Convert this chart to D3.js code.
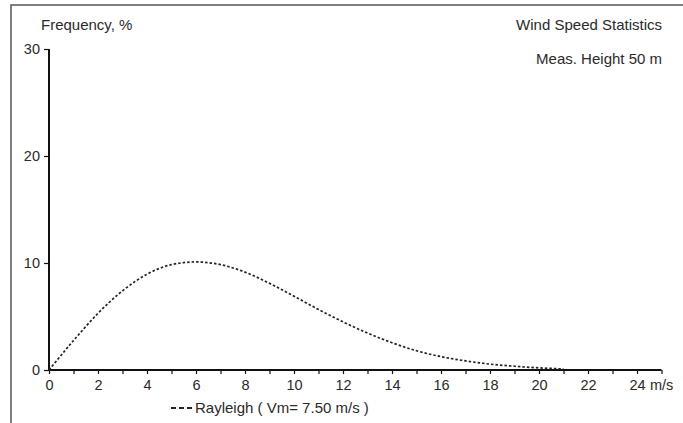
<!DOCTYPE html>
<html>
<head>
<meta charset="utf-8">
<script src="https://cdn.jsdelivr.net/npm/d3@7"></script>
<style>
  body { margin: 0; background: #fff; }
  text { font-family: "Liberation Sans", Arial, sans-serif; fill: #2a2a2a; }
</style>
</head>
<body>
<script>
  // wind speed bins, m/s
  const speeds = [0, 1, 2, 3, 4, 5, 6, 7, 8, 9, 10, 11, 12, 13, 14, 15, 16, 17, 18, 19, 20, 21];
  // Rayleigh frequency, %
  const rayleigh = [0, 2.75, 5.3, 7.4, 8.95, 9.85, 10.1, 9.85, 9.15, 8.1, 6.9, 5.65, 4.5, 3.45, 2.55, 1.8, 1.25, 0.85, 0.55, 0.35, 0.2, 0.1];
  const xTicks = [0, 2, 4, 6, 8, 10, 12, 14, 16, 18, 20, 22, 24];
  const yTicks = [0, 10, 20, 30];

  const WIDTH = 683;
  const HEIGHT = 423;
  const X0 = 49, X1 = 661.5;
  const Y0 = 370, Y1 = 49;

  const svg = d3.select("body")
    .append("svg")
    .attr("width", WIDTH)
    .attr("height", HEIGHT);

  // frame
  svg.append("rect")
     .attr("x", 11)
     .attr("y", 5)
     .attr("width", 680)
     .attr("height", 430)
     .attr("fill", "none")
     .attr("stroke", "#555")
     .attr("stroke-width", 1.5);

  const xScale = d3.scaleLinear().domain([0, 25]).range([X0, X1]);
  const yScale = d3.scaleLinear().domain([0, 30]).range([Y0, Y1]);

  const xAxis = d3.axisBottom(xScale)
    .tickValues(d3.range(0, 26))
    .tickSize(4)
    .tickFormat(d => xTicks.includes(d) ? d : "");
  const yAxis = d3.axisLeft(yScale)
    .tickValues(yTicks)
    .tickSize(5);

  const gx = svg.append("g")
     .attr("transform", "translate(0, " + Y0 + ")")
     .call(xAxis);
  const gy = svg.append("g")
     .attr("transform", "translate(" + X0 + ", 0)")
     .call(yAxis);

  [gx, gy].forEach(g => {
    g.select(".domain").attr("stroke", "#111").attr("stroke-width", 2);
    g.selectAll(".tick line").attr("stroke", "#111").attr("stroke-width", 1.2);
    g.selectAll(".tick text")
     .attr("font-family", "Liberation Sans, Arial, sans-serif")
     .attr("font-size", 14.5)
     .attr("fill", "#2a2a2a");
  });
  gx.select(".domain").attr("d", "M" + X0 + ",0H" + X1);
  gy.select(".domain").attr("d", "M0," + Y0 + "V" + Y1);
  gx.selectAll(".tick text").attr("dy", "0.92em");
  gy.selectAll(".tick text").attr("dx", "-1px");

  svg.append("text")
     .attr("x", xScale(24) + 13)
     .attr("y", Y0 + 20)
     .attr("font-size", 14.5)
     .text("m/s");

  // curve
  const line = d3.line()
    .x((d, i) => xScale(speeds[i]))
    .y(d => yScale(d))
    .curve(d3.curveMonotoneX);

  svg.append("path")
     .datum(rayleigh)
     .attr("d", line)
     .attr("fill", "none")
     .attr("stroke", "#222")
     .attr("stroke-width", 1.7)
     .attr("stroke-dasharray", "2.5,2");

  // titles
  svg.append("text")
     .attr("x", 41)
     .attr("y", 30)
     .attr("font-size", 15)
     .text("Frequency, %");
  svg.append("text")
     .attr("x", 662)
     .attr("y", 30)
     .attr("text-anchor", "end")
     .attr("font-size", 15)
     .text("Wind Speed Statistics");
  svg.append("text")
     .attr("x", 662)
     .attr("y", 64)
     .attr("text-anchor", "end")
     .attr("font-size", 15)
     .text("Meas. Height 50 m");

  // legend
  svg.append("line")
     .attr("x1", 171)
     .attr("x2", 192)
     .attr("y1", 408)
     .attr("y2", 408)
     .attr("stroke", "#222")
     .attr("stroke-width", 2.2)
     .attr("stroke-dasharray", "5,3");
  svg.append("text")
     .attr("x", 195)
     .attr("y", 413)
     .attr("font-size", 15)
     .text("Rayleigh ( Vm= 7.50 m/s )");
</script>
</body>
</html>
